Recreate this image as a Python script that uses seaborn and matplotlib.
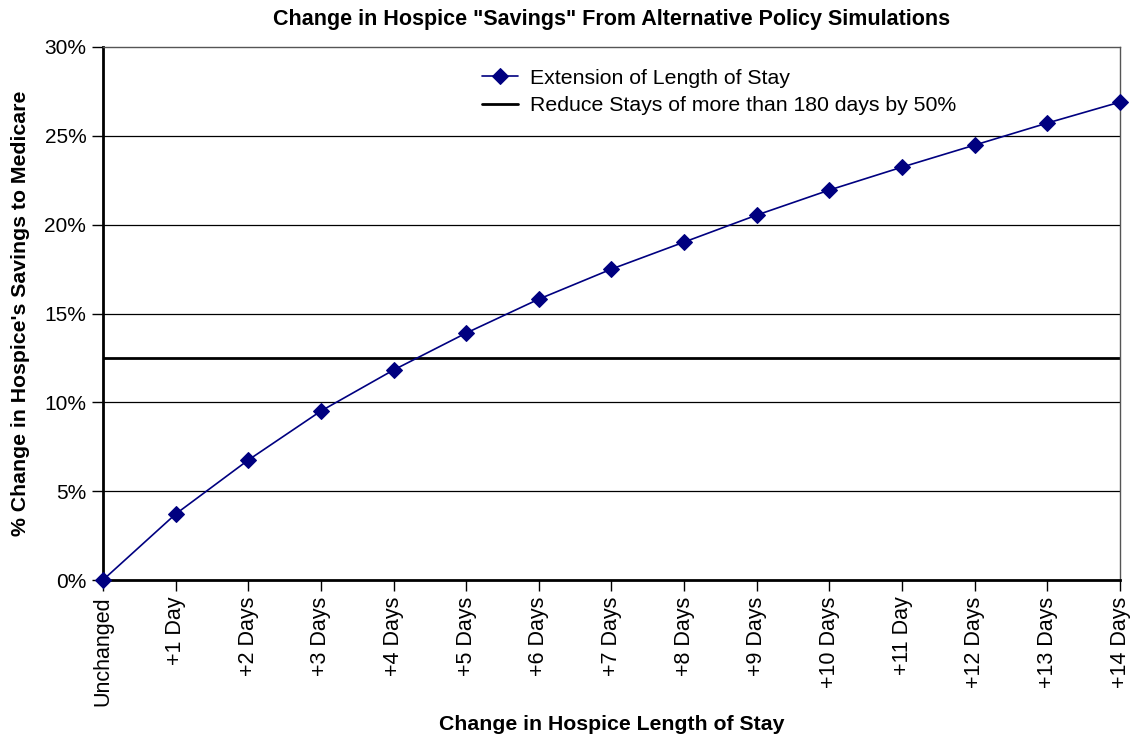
import numpy as np
import pandas as pd
import matplotlib
matplotlib.use("Agg")
import matplotlib.pyplot as plt
import seaborn as sns
from matplotlib.ticker import PercentFormatter

# Data
categories = ["Unchanged", "+1 Day", "+2 Days", "+3 Days", "+4 Days", "+5 Days",
              "+6 Days", "+7 Days", "+8 Days", "+9 Days", "+10 Days", "+11 Day",
              "+12 Days", "+13 Days", "+14 Days"]
extension = [0.0, 3.71, 6.75, 9.51, 11.82, 13.9, 15.81, 17.5, 19.02, 20.54,
             21.95, 23.24, 24.48, 25.72, 26.9]
reduce_level = 12.5

df = pd.DataFrame({"pos": np.arange(len(categories)), "cat": categories, "val": extension})

sns.set_style("white")
plt.rcParams["font.family"] = ["Liberation Sans", "DejaVu Sans"]
plt.rcParams.update({"text.color": "black", "axes.labelcolor": "black",
                     "xtick.color": "black", "ytick.color": "black"})

fig = plt.figure(figsize=(11.35, 7.4), dpi=100)
ax = fig.add_axes([0.0907, 0.2162, 0.8961, 0.7203])

# gridlines
for v in [5, 10, 15, 20, 25]:
    ax.axhline(v, color="black", lw=0.9, zorder=1)

sns.lineplot(data=df, x="pos", y="val", ax=ax, color="#000080", lw=1.2,
             marker="D", markersize=8, markeredgecolor="#000080",
             label="Extension of Length of Stay", zorder=3, clip_on=False)
ax.axhline(reduce_level, color="black", lw=2, zorder=2,
           label="Reduce Stays of more than 180 days by 50%")

ax.set_xlim(0, len(categories) - 1)
ax.set_ylim(0, 30)
ax.set_yticks(range(0, 31, 5))
ax.yaxis.set_major_formatter(PercentFormatter(decimals=0))
ax.set_xticks(df["pos"])
ax.set_xticklabels(categories, rotation=90, fontsize=15.5)
ax.tick_params(axis="y", labelsize=15, length=8, width=1, direction="out", left=True, pad=4)
ax.tick_params(axis="x", length=8, width=1, direction="out", bottom=True, pad=4)

for s in ["left", "bottom"]:
    ax.spines[s].set_color("black")
    ax.spines[s].set_linewidth(2)
for s in ["top", "right"]:
    ax.spines[s].set_color("#555555")
    ax.spines[s].set_linewidth(1)

ax.set_title('Change in Hospice "Savings" From Alternative Policy Simulations',
             fontsize=15.5, fontweight="bold", pad=16)
ax.set_xlabel("Change in Hospice Length of Stay", fontsize=15.3, fontweight="bold", labelpad=6)
ax.set_ylabel("% Change in Hospice's Savings to Medicare", fontsize=15.3, fontweight="bold", labelpad=10)

leg = ax.legend(loc="upper left", bbox_to_anchor=(0.354, 0.995), frameon=False,
                fontsize=15.3, handlelength=1.7, handletextpad=0.56, labelspacing=0.4)

fig.savefig("out.png", dpi=100)
